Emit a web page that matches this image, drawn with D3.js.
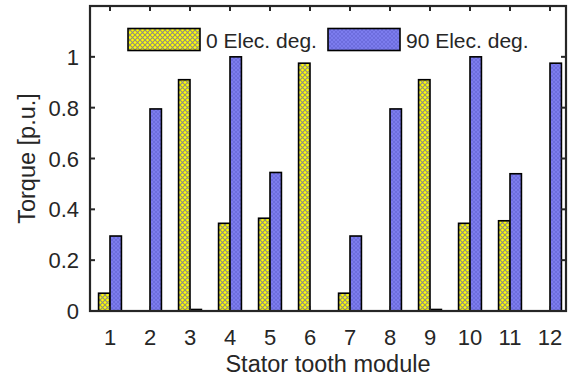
<!DOCTYPE html>
<html><head><meta charset="utf-8">
<script src="https://cdn.jsdelivr.net/npm/d3@7"></script>
<style>body{margin:0;background:#fff}svg{display:block}text{font-family:"Liberation Sans",Arial,sans-serif;fill:#262626}</style>
</head><body><svg id="c" width="571" height="378"></svg>
<script>
const categories = [1,2,3,4,5,6,7,8,9,10,11,12];
const seriesNames = ["0 Elec. deg.", "90 Elec. deg."];
const deg0 = [0.07, 0, 0.91, 0.345, 0.365, 0.975, 0.07, 0, 0.91, 0.345, 0.355, 0];
const deg90 = [0.295, 0.795, 0.006, 1.0, 0.545, 0, 0.295, 0.795, 0.006, 1.0, 0.54, 0.975];
const yTicks = [0, 0.2, 0.4, 0.6, 0.8, 1];
const yTickLabels = ["0", "0.2", "0.4", "0.6", "0.8", "1"];

const svg = d3.select("#c");
const L = 90, R = 566, T = 6, B = 311;
const x = d3.scaleLinear().domain([0.5, 12.4]).range([L, R]);
const y = d3.scaleLinear().domain([0, 1.2]).range([B, T]);
const ink = "#262626";

const defs = svg.append("defs");
const py = defs.append("pattern").attr("id","pY").attr("patternUnits","userSpaceOnUse").attr("width",5).attr("height",5);
py.append("rect").attr("width",5).attr("height",5).attr("fill","#ffff00");
py.append("path").attr("d","M0,0L5,5M5,0L0,5").attr("stroke","#8f8f80").attr("stroke-width",1.1);
const pb = defs.append("pattern").attr("id","pB").attr("patternUnits","userSpaceOnUse").attr("width",4).attr("height",4);
pb.append("rect").attr("width",4).attr("height",4).attr("fill","#7c7cee");
pb.append("path").attr("d","M0,0L2,2L4,0M0,4L2,2L4,4").attr("stroke","#6a6ad8").attr("stroke-width",0.8).attr("fill","none");

const fills = ["url(#pY)", "url(#pB)"];
const series = [deg0, deg90];
const bw = (2/3.5) / 2; // bar width in data units
series.forEach((vals, si) => {
  svg.append("g").selectAll("rect").data(categories).join("rect")
    .attr("x", (c) => x(c + (si === 0 ? -bw : 0)))
    .attr("width", x(1 + bw) - x(1))
    .attr("y", (c, i) => y(vals[i]))
    .attr("height", (c, i) => y(0) - y(vals[i]))
    .attr("fill", fills[si])
    .attr("stroke", "#000").attr("stroke-width", 1.6);
});

// axes box
const g = svg.append("g");
g.append("rect").attr("x",L).attr("y",T).attr("width",R-L).attr("height",B-T)
  .attr("fill","none").attr("stroke",ink).attr("stroke-width",2.2);
const tl = 5;
categories.forEach(c => {
  g.append("line").attr("x1",x(c)).attr("x2",x(c)).attr("y1",B).attr("y2",B-tl).attr("stroke",ink).attr("stroke-width",2);
  g.append("line").attr("x1",x(c)).attr("x2",x(c)).attr("y1",T).attr("y2",T+tl).attr("stroke",ink).attr("stroke-width",2);
  g.append("text").attr("x",x(c)).attr("y",344.5).attr("text-anchor","middle").attr("font-size",22).text(c);
});
yTicks.forEach((v,i) => {
  g.append("line").attr("x1",L).attr("x2",L+tl).attr("y1",y(v)).attr("y2",y(v)).attr("stroke",ink).attr("stroke-width",2);
  g.append("line").attr("x1",R).attr("x2",R-tl).attr("y1",y(v)).attr("y2",y(v)).attr("stroke",ink).attr("stroke-width",2);
  g.append("text").attr("x",79).attr("y",y(v)+8).attr("text-anchor","end").attr("font-size",22).text(yTickLabels[i]);
});
g.append("text").attr("x",(L+R)/2).attr("y",372).attr("text-anchor","middle").attr("font-size",23.5).text("Stator tooth module");
g.append("text").attr("transform",`translate(35,${(T+B)/2}) rotate(-90)`).attr("text-anchor","middle").attr("font-size",23.5).text("Torque [p.u.]");

// legend
const legX = [128, 328];
seriesNames.forEach((n,i) => {
  svg.append("rect").attr("x",legX[i]).attr("y",28.5).attr("width",72).attr("height",22)
    .attr("fill",fills[i]).attr("stroke","#000").attr("stroke-width",1.6);
  svg.append("text").attr("x",legX[i]+78).attr("y",48).attr("font-size",21).text(n);
});
</script></body></html>
